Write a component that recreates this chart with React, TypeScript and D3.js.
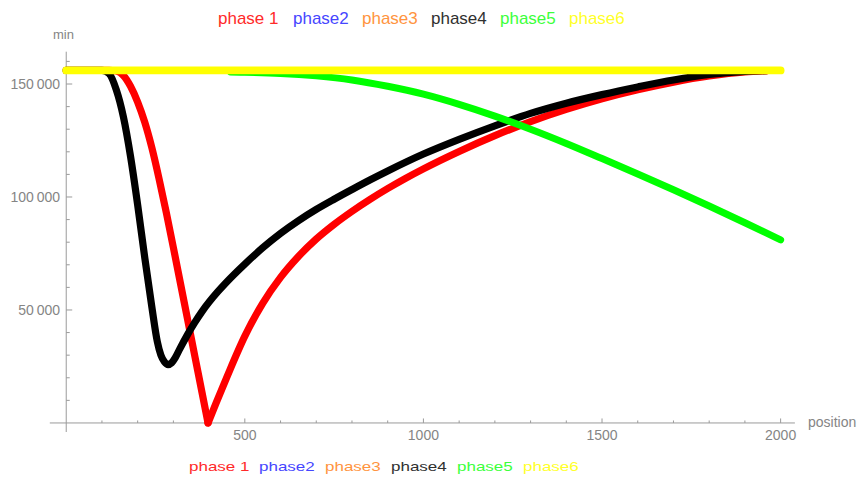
import React from "react";
import * as d3 from "d3";

// Series: position along the route and the "min" value at each position.
const phase1X = [0, 100, 120, 140, 160, 180, 200, 220, 240, 260, 280, 300, 320, 340, 360, 380, 397, 420, 450, 500, 550, 600, 650, 700, 750, 800, 850, 900, 950, 1000, 1100, 1200, 1300, 1400, 1500, 1600, 1700, 1800, 1900, 1960];
const phase1Y = [156000, 156000, 156000, 155800, 153800, 149000, 142000, 133000, 121600, 108000, 93200, 77600, 61600, 45600, 29600, 13600, 0, 9000, 20400, 38400, 52900, 64400, 73650, 81400, 87900, 93650, 98900, 103750, 108250, 112450, 120150, 127150, 133350, 138750, 143450, 147450, 150850, 153550, 155350, 155850];

const phase2X = [0, 500, 1000, 1500, 2000];
const phase2Y = [156000, 156000, 156000, 156000, 156000];

const phase3X = [0, 500, 1000, 1500, 2000];
const phase3Y = [156000, 156000, 156000, 156000, 156000];

const phase4X = [0, 100, 120, 140, 160, 180, 200, 220, 240, 255, 265, 275, 285, 295, 305, 318, 340, 360, 380, 400, 425, 450, 500, 550, 600, 650, 700, 750, 800, 850, 900, 1000, 1100, 1200, 1300, 1400, 1500, 1600, 1700, 1800, 1900, 1960];
const phase4Y = [156000, 156000, 154600, 147500, 135500, 118000, 96500, 73000, 51000, 36000, 30000, 27000, 25800, 26600, 28800, 32800, 39200, 44500, 49300, 53500, 58200, 62500, 70300, 77500, 83900, 89500, 94500, 99000, 103300, 107500, 111500, 119000, 125500, 131500, 137000, 141500, 145300, 148700, 151800, 154200, 155600, 155900];

const phase5X = [460, 500, 600, 700, 800, 900, 1000, 1100, 1200, 1300, 1400, 1500, 1600, 1700, 1800, 1900, 2000];
const phase5Y = [155300, 155200, 154700, 153600, 151800, 149000, 145500, 141000, 135800, 130000, 123700, 117000, 110200, 103200, 96000, 88600, 81000];

const phase6X = [0, 500, 1000, 1500, 2000];
const phase6Y = [156000, 156000, 156000, 156000, 156000];

const legendLabels = ["phase 1", "phase2", "phase3", "phase4", "phase5", "phase6"];
const seriesColors = ["#ff0000", "#0000ff", "#ff8000", "#000000", "#00ff00", "#ffff00"];
const legendColors = ["#ff2a2a", "#4646ff", "#ff9440", "#303030", "#3cff3c", "#ffff2a"];

const xMajorTicks = [500, 1000, 1500, 2000];
const yMajorTicks = [50000, 100000, 150000];

const W = 859;
const H = 477;

const x = d3.scaleLinear().domain([-46, 2040]).range([49.8, 794.9]);
const y = d3.scaleLinear().domain([-4000, 164300]).range([432, 51.7]);

// five-digit and longer numbers get a thin space between digit groups
const fmt = (v: number) => (v >= 10000 ? d3.format(",")(v).replace(/,/g, "\u2009") : String(v));

type Series = { xs: number[]; ys: number[]; color: string; width: number; cusp?: boolean };

const series: Series[] = [
  { xs: phase1X, ys: phase1Y, color: seriesColors[0], width: 7.2, cusp: true },
  { xs: phase2X, ys: phase2Y, color: seriesColors[1], width: 6 },
  { xs: phase3X, ys: phase3Y, color: seriesColors[2], width: 6 },
  { xs: phase4X, ys: phase4Y, color: seriesColors[3], width: 7.2 },
  { xs: phase5X, ys: phase5Y, color: seriesColors[4], width: 7 },
  { xs: phase6X, ys: phase6Y, color: seriesColors[5], width: 7.8 },
];

const line = d3
  .line<[number, number]>()
  .x((d) => x(d[0]))
  .y((d) => y(d[1]))
  .curve(d3.curveMonotoneX);

function paths(s: Series): string[] {
  const pts: [number, number][] = s.xs.map((v, i) => [v, s.ys[i]]);
  if (!s.cusp) return [line(pts) || ""];
  // split at the sharp minimum so both branches meet in a point
  const k = d3.minIndex(s.ys);
  return [line(pts.slice(0, k + 1)) || "", line(pts.slice(k)) || ""];
}

export default function App() {
  const axisColor = "#9a9a9a";
  const labelColor = "#858585";
  const font = "'Liberation Sans', Arial, sans-serif";

  const xMinor = d3.range(100, 2001, 100).filter((v) => !xMajorTicks.includes(v));
  const yMinor = d3.range(10000, 160001, 10000).filter((v) => !yMajorTicks.includes(v));

  const topStarts = [218, 293, 362, 431, 500, 569];
  const bottomStarts = [189, 259, 325, 391, 457, 523];

  return (
    <svg
      width={W}
      height={H}
      style={{ position: "absolute", left: 0, top: 0, background: "#fff" }}
      fontFamily={font}
    >
      <rect width={W} height={H} fill="#fff" />

      {/* axes */}
      <line x1={x(-46)} x2={x(2040)} y1={y(0)} y2={y(0)} stroke={axisColor} strokeWidth={1} />
      <line x1={x(0)} x2={x(0)} y1={y(-4000)} y2={y(164300)} stroke={axisColor} strokeWidth={1} />

      {xMajorTicks.map((v) => (
        <g key={"xt" + v}>
          <line x1={x(v)} x2={x(v)} y1={y(0)} y2={y(0) - 4.5} stroke={axisColor} />
          <text x={x(v)} y={440} textAnchor="middle" fontSize={14} fill={labelColor}>
            {fmt(v)}
          </text>
        </g>
      ))}
      {xMinor.map((v) => (
        <line key={"xm" + v} x1={x(v)} x2={x(v)} y1={y(0)} y2={y(0) - 2.5} stroke={axisColor} />
      ))}

      {yMajorTicks.map((v) => (
        <g key={"yt" + v}>
          <line x1={x(0)} x2={x(0) + 6} y1={y(v)} y2={y(v)} stroke={axisColor} />
          <text x={60} y={y(v)} dy="0.35em" textAnchor="end" fontSize={14} fill={labelColor}>
            {fmt(v)}
          </text>
        </g>
      ))}
      {yMinor.map((v) => (
        <line key={"ym" + v} x1={x(0)} x2={x(0) + 3.5} y1={y(v)} y2={y(v)} stroke={axisColor} />
      ))}

      <text x={63.5} y={39} textAnchor="middle" fontSize={13} fill={labelColor}>
        min
      </text>
      <text x={808} y={427} fontSize={14} fill={labelColor}>
        position
      </text>

      {/* data */}
      {series.map((s, i) =>
        paths(s).map((d, j) => (
          <path
            key={"s" + i + "_" + j}
            d={d}
            fill="none"
            stroke={s.color}
            strokeWidth={s.width}
            strokeLinecap="round"
            strokeLinejoin="round"
          />
        ))
      )}

      {/* legends */}
      {legendLabels.map((t, i) => (
        <text key={"lt" + i} x={topStarts[i]} y={24} fontSize={17} fill={legendColors[i]}>
          {t}
        </text>
      ))}
      {legendLabels.map((t, i) => (
        <text
          key={"lb" + i}
          transform={`translate(${bottomStarts[i]},470.5) scale(1,0.79)`}
          fontSize={17}
          fill={legendColors[i]}
        >
          {t}
        </text>
      ))}
    </svg>
  );
}
